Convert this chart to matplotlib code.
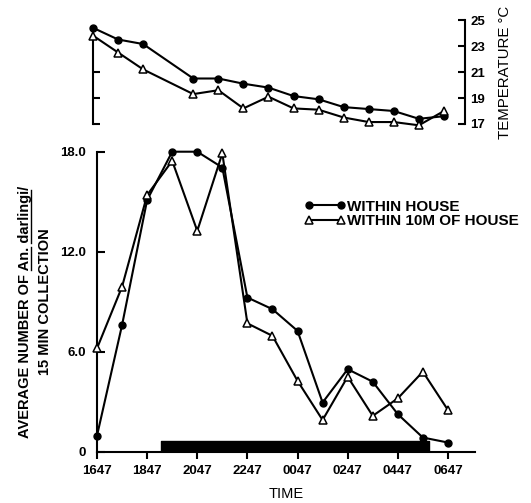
import matplotlib.pyplot as plt
from matplotlib.lines import Line2D

plt.rcParams['font.family'] = ['Liberation Sans', 'DejaVu Sans']
plt.rcParams['font.weight'] = 'bold'
plt.rcParams['font.size'] = 9.5

# hours after 1647
hours = list(range(15))
tick_hours = [0, 2, 4, 6, 8, 10, 12, 14]
time_labels = ['1647', '1847', '2047', '2247', '0047', '0247', '0447', '0647']

house_count = [0.96, 7.6, 15.1, 18.0, 18.0, 17.05, 9.25, 8.55, 7.25, 2.95, 4.95, 4.2, 2.25, 0.85, 0.55]
near_count = [6.2, 9.9, 15.4, 17.45, 13.25, 17.9, 7.7, 6.95, 4.25, 1.9, 4.5, 2.15, 3.2, 4.8, 2.5]

temp_hours = [0, 1, 2, 4, 5, 6, 7, 8, 9, 10, 11, 12, 13, 14]
house_temp = [24.4, 23.5, 23.15, 20.5, 20.5, 20.1, 19.8, 19.15, 18.9, 18.3, 18.15, 18.0, 17.4, 17.6]
near_temp = [23.8, 22.5, 21.2, 19.3, 19.6, 18.2, 19.1, 18.2, 18.1, 17.5, 17.15, 17.15, 16.9, 18.0]

# dark period (hours after 1647)
night_start, night_end = 2.55, 13.25

W, H = 531, 503
fig = plt.figure(figsize=(W / 100, H / 100), dpi=100)

circ = dict(color='black', lw=1.5, marker='o', ms=5, clip_on=False)
tri = dict(color='black', lw=1.5, marker='^', ms=6, mfc='white', mec='black', mew=1.1, clip_on=False)

# ---- main panel
ax = fig.add_axes([97 / W, 1 - 451.7 / H, 378 / W, 300 / H])
ax.plot(hours, house_count, label='WITHIN HOUSE', zorder=3, **circ)
ax.plot(hours, near_count, label='WITHIN 10M OF HOUSE', zorder=4, **tri)
ax.broken_barh([(night_start, night_end - night_start)], (0, 0.62), color='black', zorder=2)
ax.set_xlim(0, 15.08)
ax.set_ylim(0, 18)
ax.set_xticks(tick_hours)
ax.set_xticklabels(time_labels)
ax.set_yticks([0, 6, 12, 18])
ax.set_yticklabels(['0', '6.0', '12.0', '18.0'])
ax.spines['top'].set_visible(False)
ax.spines['right'].set_visible(False)
for s in ['left', 'bottom']:
    ax.spines[s].set_linewidth(1.5)
ax.tick_params(axis='x', direction='out', length=5, width=1.5, pad=4.5)
ax.tick_params(axis='y', direction='in', length=6, width=1.5, pad=8)
ax.set_xlabel('TIME', labelpad=7, fontsize=10.5)

leg = ax.legend(loc='center left', bbox_to_anchor=(304 / W, 1 - 214 / H),
                bbox_transform=fig.transFigure, frameon=False, numpoints=2,
                handlelength=2.75, handletextpad=0.05, borderpad=0, borderaxespad=0,
                labelspacing=0.05, fontsize=11)

# ---- temperature panel
axt = fig.add_axes([93 / W, 1 - 124 / H, 372 / W, 104 / H])
axt.plot(temp_hours, house_temp, zorder=3, **circ)
axt.plot(temp_hours, near_temp, zorder=4, **tri)
axt.set_xlim(0, 14.84)
axt.set_ylim(17, 25)
for s in ['top', 'bottom', 'right']:
    axt.spines[s].set_visible(False)
axt.spines['left'].set_bounds(17, 24.5)
axt.spines['left'].set_linewidth(1.5)
axt.set_xticks([])
axt.set_yticks([17, 19, 21])
axt.tick_params(axis='y', direction='in', length=5, width=1.5, labelleft=False)

sec = axt.secondary_yaxis('right')
sec.spines['right'].set_linewidth(1.5)
sec.set_yticks([17, 19, 21, 23, 25])
sec.tick_params(direction='in', length=5, width=1.5, pad=4)
sec.set_ylabel('TEMPERATURE °C', labelpad=9, fontsize=10.8)

# ---- y label of main panel, with underlined species name
line1 = 'AVERAGE NUMBER OF An. darlingi/'
t1 = fig.text(25 / W, 1 - 312 / H, line1, rotation=90, ha='center', va='center', fontsize=10.5)
fig.text(45 / W, 1 - 302 / H, '15 MIN COLLECTION', rotation=90, ha='center', va='center',
         fontsize=10.5)

fig.canvas.draw()
r = fig.canvas.get_renderer()
prop = t1.get_fontproperties()


def width(s):
    return r.get_text_width_height_descent(s, prop, ismath=False)[0]


bb = t1.get_window_extent(r)
_, _, d = r.get_text_width_height_descent('lp', prop, ismath=False)
ux = bb.x1 - d + 1.5
for a, b in [('AVERAGE NUMBER OF ', 'AVERAGE NUMBER OF An.'),
             ('AVERAGE NUMBER OF An. ', 'AVERAGE NUMBER OF An. darlingi')]:
    y0 = bb.y0 + width(a)
    y1 = bb.y0 + width(b)
    fig.add_artist(Line2D([ux / W, ux / W], [y0 / H, y1 / H], color='black',
                          lw=1.0, transform=fig.transFigure))

fig.savefig('out.png', dpi=100)
